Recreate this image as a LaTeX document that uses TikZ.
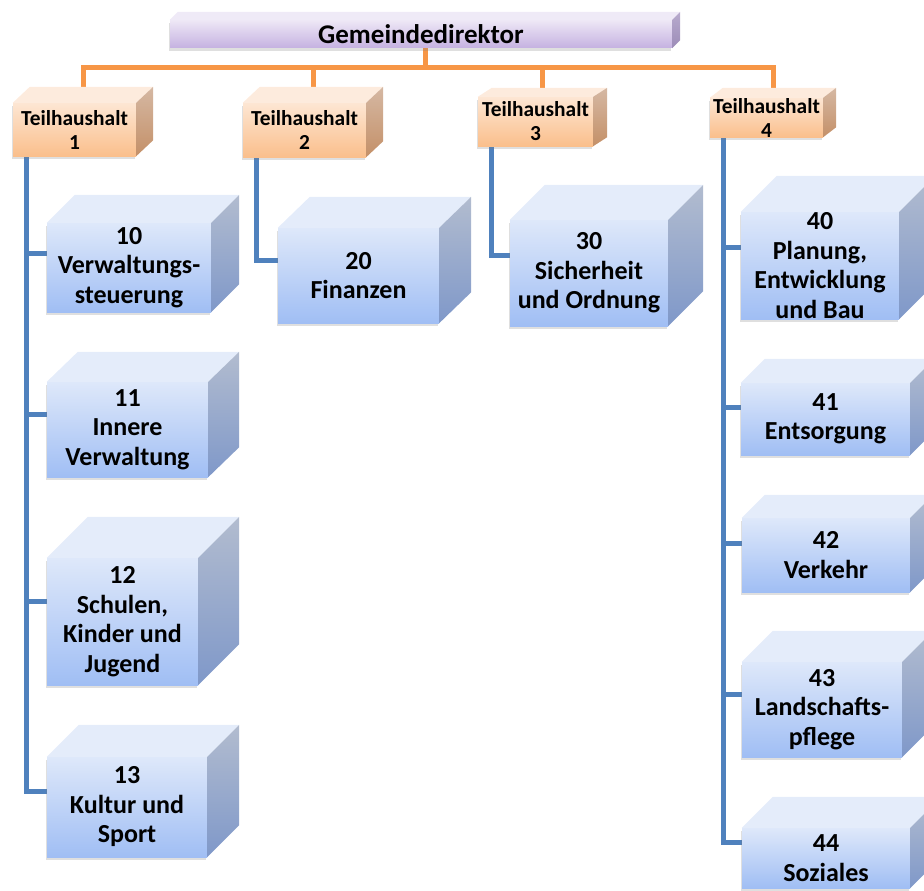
\documentclass[tikz,border=0pt]{standalone}
\usepackage{fontspec}
\setmainfont{Carlito}
\usetikzlibrary{calc,shadows,backgrounds}
\definecolor{gdtop}{HTML}{EEE8F6}
\definecolor{gdbot}{HTML}{C5B1E1}
\definecolor{gdface}{HTML}{EFEAF7}
\definecolor{gdsidea}{HTML}{B8ABCD}
\definecolor{gdsideb}{HTML}{9C8CB8}
\definecolor{thtop}{HTML}{FDE6D3}
\definecolor{thbot}{HTML}{FABF8C}
\definecolor{thface}{HTML}{FDEBDD}
\definecolor{thsidea}{HTML}{D5B8A3}
\definecolor{thsideb}{HTML}{C49068}
\definecolor{untop}{HTML}{DEE8FA}
\definecolor{unbot}{HTML}{A0BEF4}
\definecolor{unface}{HTML}{E4ECFA}
\definecolor{unsidea}{HTML}{B2BCCF}
\definecolor{unsideb}{HTML}{7F98C9}
\definecolor{orgline}{HTML}{F79646}
\definecolor{bluline}{HTML}{4F81BD}
% top and right face of a box node: node, dx, dy, top colour, side shading
\newcommand{\cubefaces}[5]{%
	\fill[#4] (#1.north west) -- ++(#2,-#3) -- ([shift={(#2,-#3)}]#1.north east) -- (#1.north east) -- cycle;
	\shade[#5] (#1.north east) -- ([shift={(#2,-#3)}]#1.north east) -- ([shift={(#2,-#3)}]#1.south east) -- (#1.south east) -- cycle;
	\coordinate (#1-top) at ([shift={(#2/2,-#3)}]#1.north);
	\coordinate (#1-mid) at ([shift={(0,-#3/2)}]#1.west);
	\coordinate (#1-base) at ([shift={(#2/2,0)}]#1.south);
	\coordinate (#1-stem) at ([xshift=14pt]#1.south west);
}

\begin{document}
\begin{tikzpicture}[x=1pt,y=-1pt]
	\tikzset{chief/.style={inner sep=0pt, align=center, font=\bfseries\fontsize{27}{30}\selectfont,
			top color=gdtop, bottom color=gdbot, drop shadow={shadow xshift=-1pt,shadow yshift=-3pt,opacity=.25}},
		part/.style={inner sep=0pt, align=center, font=\bfseries\fontsize{21.4}{24}\selectfont,
			top color=thtop, bottom color=thbot, drop shadow={shadow xshift=-1pt,shadow yshift=-3pt,opacity=.25}},
		unit/.style={inner sep=0pt, align=center, font=\bfseries\fontsize{26}{29.5}\selectfont,
			top color=untop, bottom color=unbot, drop shadow={shadow xshift=-1pt,shadow yshift=-3pt,opacity=.25}},
		toplink/.style={draw=orgline, line width=5pt},
		sublink/.style={draw=bluline, line width=5pt},
	}
	\useasboundingbox (0,0) rectangle (924,891);
	\clip (0,0) rectangle (924,891);
	% Leitung
	\node [chief, minimum width=502pt, minimum height=28pt] (gd) at (421,34) {Gemeindedirektor};
	\cubefaces{gd}{8}{8}{gdface}{top color=gdsidea, bottom color=gdsideb}
	% Teilhaushalte
	\node [part, minimum width=123pt, minimum height=53pt] (th1) at (74.5,129.5) {Teilhaushalt\\1};
	\node [part, minimum width=123pt, minimum height=54pt] (th2) at (304.5,130) {Teilhaushalt\\2};
	\node [part, minimum width=115pt, minimum height=49pt] (th3) at (535.5,121.5) {Teilhaushalt\\3};
	\node [part, minimum width=113pt, minimum height=39pt] (th4) at (766.5,117.5) {Teilhaushalt\\4};
	\cubefaces{th1}{17}{16}{thface}{top color=thsidea, bottom color=thsideb}
	\cubefaces{th2}{17}{16}{thface}{top color=thsidea, bottom color=thsideb}
	\cubefaces{th3}{14}{9}{thface}{top color=thsidea, bottom color=thsideb}
	\cubefaces{th4}{13}{10}{thface}{top color=thsidea, bottom color=thsideb}
	% Produktbereiche
	\node [unit, minimum width=164pt, minimum height=89pt] (u10) at (129,267.5) {10\\Verwaltungs-\\steuerung};
	\node [unit, minimum width=161pt, minimum height=95pt] (u11) at (127.5,429.5) {11\\Innere\\Verwaltung};
	\node [unit, minimum width=151pt, minimum height=127pt] (u12) at (122.5,621.5) {12\\Schulen,\\Kinder und\\Jugend};
	\node [unit, minimum width=160pt, minimum height=100pt] (u13) at (127,807) {13\\Kultur und\\Sport};
	\node [unit, minimum width=161pt, minimum height=95pt] (u20) at (358.5,275.5) {20\\Finanzen};
	\node [unit, minimum width=158pt, minimum height=106pt] (u30) at (589,273) {30\\Sicherheit\\und Ordnung};
	\node [unit, minimum width=158pt, minimum height=107pt] (u40) at (820,265.5) {40\\Planung,\\Entwicklung\\und Bau};
	\node [unit, minimum width=169pt, minimum height=72pt] (u41) at (825.5,419) {41\\Entsorgung};
	\node [unit, minimum width=168pt, minimum height=74pt] (u42) at (826,555) {42\\Verkehr};
	\node [unit, minimum width=160pt, minimum height=95pt] (u43) at (822,709.5) {43\\Landschafts-\\pflege};
	\node [unit, minimum width=168pt, minimum height=60pt] (u44) at (826,858) {44\\Soziales};
	\cubefaces{u10}{28}{28}{unface}{top color=unsidea, bottom color=unsideb}
	\cubefaces{u11}{31}{30}{unface}{top color=unsidea, bottom color=unsideb}
	\cubefaces{u12}{41}{41}{unface}{top color=unsidea, bottom color=unsideb}
	\cubefaces{u13}{32}{32}{unface}{top color=unsidea, bottom color=unsideb}
	\cubefaces{u20}{32}{31}{unface}{top color=unsidea, bottom color=unsideb}
	\cubefaces{u30}{35}{35}{unface}{top color=unsidea, bottom color=unsideb}
	\cubefaces{u40}{36}{36}{unface}{top color=unsidea, bottom color=unsideb}
	\cubefaces{u41}{24}{24}{unface}{top color=unsidea, bottom color=unsideb}
	\cubefaces{u42}{23}{23}{unface}{top color=unsidea, bottom color=unsideb}
	\cubefaces{u43}{31}{31}{unface}{top color=unsidea, bottom color=unsideb}
	\cubefaces{u44}{31}{31}{unface}{top color=unsidea, bottom color=unsideb}
	% Verbindungen
	\begin{scope}[on background layer]
		\coordinate (bus) at ($(gd-base)!.5!(gd-base |- th1-top)$);
		\draw [toplink] (gd-base) -- (bus);
		\draw [toplink] (th1-top) |- (bus) -| (th4-top);
		\draw [toplink] (th2-top) -- (th2-top |- bus);
		\draw [toplink] (th3-top) -- (th3-top |- bus);
		\draw [sublink] (th1-stem) |- (u13-mid);
		\draw [sublink] (u10-mid) -- (u10-mid -| th1-stem);
		\draw [sublink] (u11-mid) -- (u11-mid -| th1-stem);
		\draw [sublink] (u12-mid) -- (u12-mid -| th1-stem);
		\draw [sublink] (th2-stem) |- (u20-mid);
		\draw [sublink] (th3-stem) |- (u30-mid);
		\draw [sublink] (th4-stem) |- (u44-mid);
		\draw [sublink] (u40-mid) -- (u40-mid -| th4-stem);
		\draw [sublink] (u41-mid) -- (u41-mid -| th4-stem);
		\draw [sublink] (u42-mid) -- (u42-mid -| th4-stem);
		\draw [sublink] (u43-mid) -- (u43-mid -| th4-stem);
	\end{scope}
\end{tikzpicture}
\end{document}
